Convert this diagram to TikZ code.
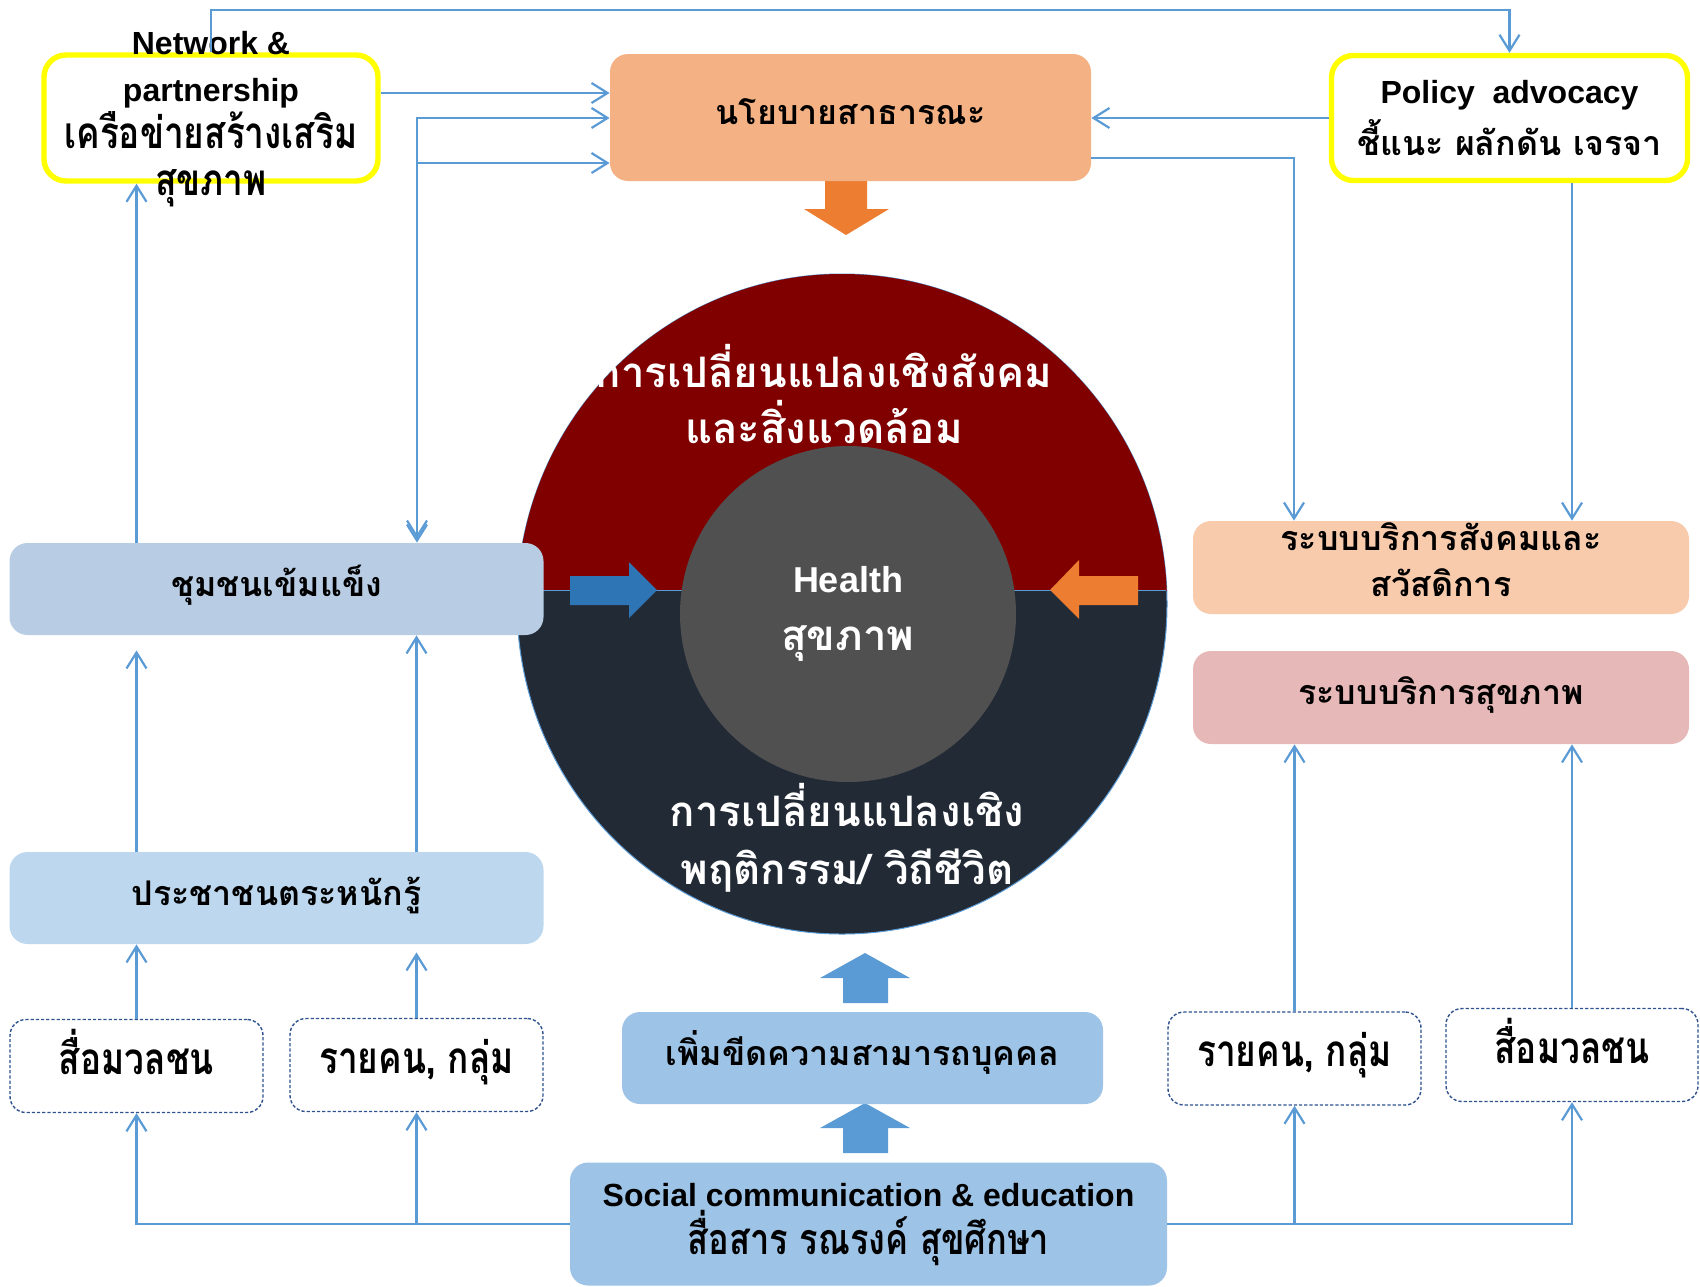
\documentclass[tikz,border=0pt]{standalone}
\usepackage{fontspec}
\setmainfont{Liberation Sans}
\newfontfamily\thaifont[Script=Thai]{Loma}
\newfontfamily\thainarrow[Script=Thai,FakeStretch=0.8]{Loma}
\usetikzlibrary{arrows.meta}

\definecolor{lineblue}{HTML}{5B9BD5}
\definecolor{arrowblue}{HTML}{2E75B6}
\definecolor{arroworange}{HTML}{ED7D31}
\definecolor{policyfill}{HTML}{F4B183}
\definecolor{communfill}{HTML}{B8CCE4}
\definecolor{awarefill}{HTML}{BDD7EE}
\definecolor{scefill}{HTML}{9DC3E6}
\definecolor{socialfill}{HTML}{F8CBAD}
\definecolor{hservfill}{HTML}{E6B9B8}
\definecolor{ringred}{HTML}{800000}
\definecolor{ringnavy}{HTML}{222A35}
\definecolor{coregrey}{HTML}{505050}
\definecolor{dashblue}{HTML}{2F528F}
\definecolor{markyellow}{HTML}{FFFF00}

\tikzset{
  barb/.tip={Straight Barb[length=8pt,width=10pt]},
  link/.style={draw=lineblue, line width=1.1pt, -barb},
  cbox/.style={rounded corners=9pt, inner sep=0pt, align=center,
    font=\thaifont\bfseries\fontsize{17}{23}\selectfont},
  oneline/.style={text height=11pt, text depth=4pt},
  ybox/.style={draw=markyellow, line width=2.7pt, fill=white, rounded corners=11pt,
    inner sep=0pt, align=center},
  dbox/.style={draw=dashblue, line width=0.7pt, dash pattern=on 1.6pt off 1pt,
    fill=white, rounded corners=8pt, inner sep=0pt, text height=13pt, text depth=5pt,
    font=\thainarrow\bfseries\fontsize{22}{24}\selectfont},
}

\begin{document}
\begin{tikzpicture}[x=0.5pt,y=-0.5pt]
  \useasboundingbox (0,0) rectangle (1700,1286);

  % Health ring
  \draw[lineblue, line width=0.5pt, fill=ringnavy] (842,604) circle [x radius=325, y radius=330];
  \begin{scope}
    \clip (0,0) rectangle (1700,590);
    \fill[ringred] (842,604) circle [x radius=325, y radius=330];
  \end{scope}
  \draw[lineblue, line width=0.5pt] (518,590) -- (1166,590);

  \node[circle, fill=coregrey, minimum size=168pt, inner sep=0pt, align=center, text=white,
    font=\bfseries\fontsize{18}{29}\selectfont]
    (health) at (848,614) {Health\\{\thaifont\bfseries\fontsize{21}{29}\selectfont สุขภาพ}};
  \node[align=center, text=white, font=\thaifont\bfseries\fontsize{21}{28}\selectfont]
    (socenv) at (824,394) {การเปลี่ยนแปลงเชิงสังคม\\และสิ่งแวดล้อม};
  \node[align=center, text=white, font=\thaifont\bfseries\fontsize{21}{29}\selectfont]
    (behav) at (847,838) {การเปลี่ยนแปลงเชิง\\พฤติกรรม/ วิถีชีวิต};

  % Block arrows
  \fill[arroworange] (825,181) -- (867,181) -- (867,209) -- (889,209) -- (846,235)
    -- (804,209) -- (825,209) -- cycle;
  \fill[arrowblue] (570,576) -- (629,576) -- (629,562) -- (657,590) -- (629,618)
    -- (629,605) -- (570,605) -- cycle;
  \fill[arroworange] (1138,576) -- (1079,576) -- (1079,560) -- (1050,590) -- (1079,619)
    -- (1079,605) -- (1138,605) -- cycle;
  \foreach \t in {953,1103} {
    \fill[lineblue] (865,\t) -- (910,\t+25) -- (888,\t+25) -- (888,\t+50) -- (843,\t+50)
      -- (843,\t+25) -- (820,\t+25) -- cycle;
  }

  % Boxes
  \node[ybox, minimum width=167pt, minimum height=63pt] (net) at (211,118) {};
  \node[align=center, font=\bfseries\fontsize{16}{23.5}\selectfont] (nettext) at (211,119)
    {Network \&\\partnership\\{\thainarrow\bfseries\fontsize{22}{23.5}\selectfont เครือข่ายสร้างเสริม}\\
     {\thainarrow\bfseries\fontsize{22}{23.5}\selectfont สุขภาพ}};
  \node[cbox, oneline, fill=policyfill, minimum width=240.5pt, minimum height=63.5pt] (policy) at (850.5,117.5)
    {นโยบายสาธารณะ};
  \node[ybox, minimum width=178pt, minimum height=62.5pt, font=\bfseries\fontsize{16}{26}\selectfont]
    (advoc) at (1509.5,118) {Policy\ \ advocacy\\{\thaifont\bfseries\fontsize{17}{26}\selectfont ชี้แนะ ผลักดัน เจรจา}};

  \node[cbox, oneline, fill=communfill, minimum width=267pt, minimum height=46pt] (commun) at (276.5,589) {ชุมชนเข้มแข็ง};
  \node[cbox, oneline, fill=awarefill, minimum width=267pt, minimum height=46pt] (aware) at (276.5,898) {ประชาชนตระหนักรู้};
  \node[dbox, minimum width=126.5pt, minimum height=46.5pt] (mediaL) at (136.5,1066) {สื่อมวลชน};
  \node[dbox, minimum width=126.5pt, minimum height=46.5pt] (indivL) at (416.5,1065) {รายคน, กลุ่ม};

  \node[cbox, oneline, fill=scefill, minimum width=240.5pt, minimum height=46pt] (capac) at (862.5,1058) {เพิ่มขีดความสามารถบุคคล};
  \node[cbox, fill=scefill, minimum width=298.5pt, minimum height=61.5pt, font=\bfseries\fontsize{16}{24}\selectfont]
    (sce) at (868.5,1224) {Social communication \& education\\
      {\thainarrow\bfseries\fontsize{21.5}{24}\selectfont สื่อสาร รณรงค์ สุขศึกษา}};

  \node[cbox, fill=socialfill, minimum width=248pt, minimum height=46.5pt, text depth=8pt] (social) at (1441,567.5) {ระบบบริการสังคมและ\\สวัสดิการ};
  \node[cbox, oneline, fill=hservfill, minimum width=248pt, minimum height=46.5pt] (hserv) at (1441,697.5) {ระบบบริการสุขภาพ};
  \node[dbox, minimum width=126.5pt, minimum height=46.5pt] (indivR) at (1294.5,1058.5) {รายคน, กลุ่ม};
  \node[dbox, minimum width=126pt, minimum height=46.5pt] (mediaR) at (1572,1055) {สื่อมวลชน};

  % Connectors
  \coordinate (top) at (0,10);
  \coordinate (r1) at (0,93);
  \coordinate (v1) at (417,118);
  \coordinate (v2) at (417,163);
  \coordinate (r2) at (1294,158);

  \draw[link] (net.north) -- (net.north |- top) -| (advoc.north);
  \draw[link] (net.east |- r1) -- (policy.west |- r1);
  \draw[link, barb-barb] (commun.north -| v1) -- (v1) -- (policy.west |- v1);
  \draw[link, barb-barb, shorten <=2pt] (commun.north -| v2) -- (v2) -- (policy.west |- v2);
  \draw[link] (advoc.west) -- (policy.east |- advoc.west);
  \draw[link] (policy.east |- r2) -- (r2) -- (social.north -| r2);
  \draw[link] (advoc.south -| mediaR) -- (social.north -| mediaR);

  \draw[link] (commun.north -| mediaL) -- (net.south -| mediaL);
  \draw[link, shorten >=7.5pt] (aware.north -| mediaL) -- (commun.south -| mediaL);
  \draw[link] (aware.north -| indivL) -- (commun.south -| indivL);
  \draw[link] (mediaL.north) -- (aware.south -| mediaL);
  \draw[link, shorten >=4pt] (indivL.north) -- (aware.south -| indivL);
  \draw[link] (sce.west) -| (mediaL.south);
  \draw[link] (sce.west -| indivL) -- (indivL.south);

  \draw[link] (sce.east) -| (mediaR.south);
  \draw[link] (sce.east -| indivR) -- (indivR.south);
  \draw[link] (indivR.north) -- (hserv.south -| indivR);
  \draw[link] (mediaR.north) -- (hserv.south -| mediaR);

\end{tikzpicture}
\end{document}
